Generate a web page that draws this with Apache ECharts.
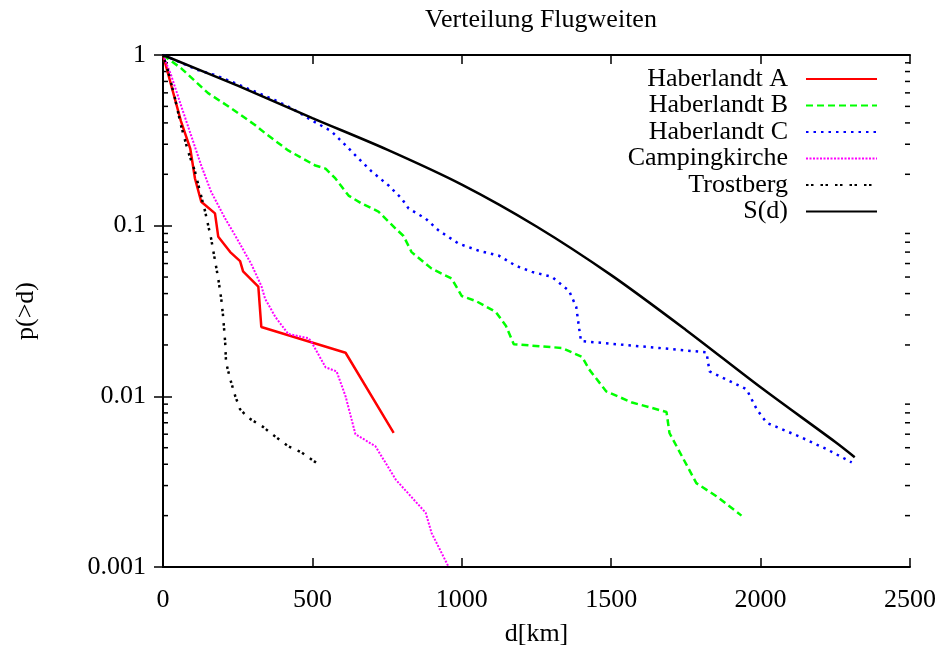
<!DOCTYPE html>
<html>
<head>
<meta charset="utf-8">
<script src="https://cdn.jsdelivr.net/npm/echarts@6/dist/echarts.min.js"></script>
<style>
html,body{margin:0;padding:0;background:#fff;}
#chart{width:942px;height:648px;}
</style>
</head>
<body>
<div id="chart"></div>
<script>
const seriesNames = ['Haberlandt A','Haberlandt B','Haberlandt C','Campingkirche','Trostberg','S(d)'];
const xTicks = [0,500,1000,1500,2000,2500];
const yTickLabels = ['0.001','0.01','0.1','1'];
const yMinorTicks = [0.002,0.003,0.004,0.005,0.006,0.007,0.008,0.009,
                     0.02,0.03,0.04,0.05,0.06,0.07,0.08,0.09,
                     0.2,0.3,0.4,0.5,0.6,0.7,0.8,0.9];

const haberlandtA = [[0,1],[60,0.41],[91,0.284],[107,0.189],[128,0.138],[174,0.118],[185,0.086],[225,0.07],[258,0.062],[268,0.054],[319,0.044],[329,0.0255],[611,0.018],[772,0.0061]];
const haberlandtB = [[0,1],[60,0.838],[151,0.598],[218,0.501],[309,0.388],[342,0.348],[419,0.276],[510,0.225],[544,0.216],[577,0.189],[621,0.15],[664,0.135],[721,0.121],[779,0.096],[805,0.087],[832,0.07],[899,0.056],[966,0.049],[1000,0.0387],[1047,0.0362],[1114,0.0312],[1148,0.0258],[1174,0.0202],[1336,0.0192],[1403,0.017],[1426,0.0144],[1483,0.0107],[1570,0.0092],[1685,0.0081],[1695,0.0061],[1785,0.0031],[1852,0.0026],[1936,0.002]];
const haberlandtC = [[0,1],[117,0.816],[174,0.763],[242,0.684],[319,0.598],[376,0.543],[430,0.488],[497,0.415],[564,0.357],[611,0.296],[654,0.248],[698,0.208],[755,0.172],[799,0.144],[822,0.126],[879,0.11],[923,0.0935],[990,0.0784],[1057,0.0713],[1124,0.0667],[1181,0.0582],[1235,0.0536],[1302,0.0501],[1359,0.0415],[1383,0.0334],[1393,0.0248],[1399,0.0211],[1517,0.0202],[1661,0.0192],[1819,0.0181],[1829,0.014],[1896,0.0123],[1953,0.011],[1987,0.0084],[2020,0.007],[2131,0.0058],[2221,0.0049],[2305,0.0041]];
const campingkirche = [[0,1],[27,0.763],[60,0.508],[94,0.338],[128,0.225],[161,0.158],[208,0.11],[242,0.0873],[295,0.0598],[329,0.0444],[342,0.0372],[376,0.0292],[419,0.0232],[487,0.0219],[497,0.0208],[544,0.0148],[581,0.014],[611,0.01],[644,0.006],[711,0.0051],[779,0.00325],[879,0.00208],[899,0.00158],[956,0.001]];
const trostberg = [[0,1],[17,0.805],[40,0.558],[60,0.388],[84,0.272],[107,0.208],[124,0.158],[141,0.121],[161,0.084],[185,0.0488],[195,0.0372],[201,0.0296],[208,0.0208],[211,0.0158],[225,0.0126],[242,0.01],[258,0.0084],[285,0.0075],[336,0.0066],[376,0.0058],[419,0.0051],[463,0.0047],[520,0.004]];
const sOfD = [[0,1],[250,0.661],[500,0.427],[750,0.279],[1000,0.174],[1250,0.0989],[1500,0.0513],[1750,0.0245],[2000,0.0113],[2250,0.0054],[2315,0.0044]];

const seriesData = [haberlandtA, haberlandtB, haberlandtC, campingkirche, trostberg, sOfD];
const colors = ['#ff0000','#00ff00','#0000ff','#ff00ff','#000000','#000000'];
const dashes = ['solid',[7,4],[2.5,5],[2,1.5],[2.5,2.5,2.5,7],'solid'];
const widths = [2.5,2.5,2.5,2,2.5,2.5];

const FONT = 'Liberation Serif';
const FS = 26;
const chart = echarts.init(document.getElementById('chart'), null, {renderer:'canvas'});

const lineSeries = seriesNames.map((n,i)=>({
  name:n, type:'line', data:seriesData[i], xAxisIndex:0, yAxisIndex:0,
  symbol:'none', showSymbol:false, smooth: i===5 ? 0.3 : false,
  lineStyle:{color:colors[i], width:widths[i], type:dashes[i]},
  itemStyle:{color:colors[i]},
  emphasis:{disabled:true}, animation:false, z:3
}));

const minorTickSeries = {
  type:'custom', xAxisIndex:0, yAxisIndex:0, silent:true, animation:false,
  data: yMinorTicks.map(v=>[0,v]),
  renderItem: function(params, api){
    const v = api.value(1);
    const p = api.coord([0, v]);
    const q = api.coord([2500, v]);
    const st = {stroke:'#000', lineWidth:1.5};
    return {type:'group', children:[
      {type:'line', shape:{x1:p[0], y1:p[1], x2:p[0]+5, y2:p[1]}, style:st},
      {type:'line', shape:{x1:q[0]-5, y1:q[1], x2:q[0], y2:q[1]}, style:st}
    ]};
  }
};

const axisLine = {show:true, lineStyle:{color:'#000', width:2}};
const tick = {show:true, inside:true, length:9, lineStyle:{color:'#000', width:1.5}};
const ylabFmt = v => yTickLabels[Math.round(Math.log10(v))+3];

chart.setOption({
  backgroundColor:'#fff',
  animation:false,
  title:{text:'Verteilung Flugweiten', left:536, top:2, textAlign:'center',
    textStyle:{fontFamily:FONT, fontSize:FS, fontWeight:'normal', color:'#000'}},
  grid:{left:163, right:32, top:55, bottom:81, containLabel:false, outerBoundsMode:'none'},
  legend:{
    data:seriesNames, orient:'vertical', right:59, top:61, align:'right',
    itemWidth:71, itemHeight:20, itemGap:0.5,
    itemStyle:{opacity:0},
    textStyle:{fontFamily:FONT, fontSize:FS, color:'#000', width:170, align:'right', padding:[0,13,0,0]},
    selectedMode:false
  },
  xAxis:[
    {type:'value', min:0, max:2500, interval:500, position:'bottom',
     name:'d[km]', nameLocation:'middle', nameGap:54,
     nameTextStyle:{fontFamily:FONT, fontSize:FS, color:'#000'},
     axisLine:axisLine, axisTick:tick,
     axisLabel:{fontFamily:FONT, fontSize:FS, color:'#000', margin:20, formatter:v=>String(v)},
     splitLine:{show:false}},
    {type:'value', min:0, max:2500, interval:500, position:'top',
     axisLine:axisLine, axisTick:tick,
     axisLabel:{show:false}, splitLine:{show:false}}
  ],
  yAxis:[
    {type:'log', logBase:10, min:0.001, max:1, position:'left',
     name:'p(>d)', nameLocation:'middle', nameGap:124, nameRotate:90,
     nameTextStyle:{fontFamily:FONT, fontSize:FS, color:'#000'},
     axisLine:axisLine, axisTick:tick,
     axisLabel:{fontFamily:FONT, fontSize:FS, color:'#000', margin:17, formatter:ylabFmt},
     splitLine:{show:false}},
    {type:'log', logBase:10, min:0.001, max:1, position:'right',
     axisLine:axisLine, axisTick:tick,
     axisLabel:{show:false}, splitLine:{show:false}}
  ],
  series:[...lineSeries, minorTickSeries]
});
</script>
</body>
</html>
